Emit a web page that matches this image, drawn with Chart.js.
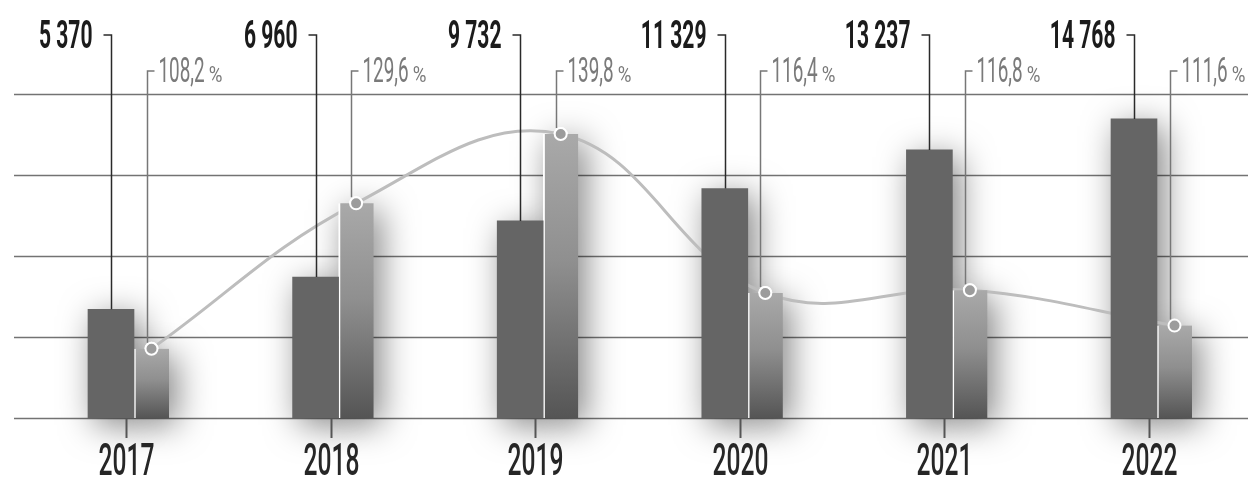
<!DOCTYPE html>
<html lang="ru">
<head>
  <meta charset="UTF-8">
  <title>2017–2022</title>
  <script src="https://cdn.jsdelivr.net/npm/chart.js"></script>
  <style>
    html, body {
      margin: 0;
      padding: 0;
      background: #fff;
    }
    #wrap {
      width: 1248px;
      height: 478px;
      position: relative;
    }
  </style>
</head>
<body>
  <div id="wrap"><canvas id="chart"></canvas></div>

  <script>
    // Data
    const years = ['2017', '2018', '2019', '2020', '2021', '2022'];
    const volume = [5370, 6960, 9732, 11329, 13237, 14768];
    const growth = [108.2, 129.6, 139.8, 116.4, 116.8, 111.6];

    // growth axis does not start at zero in the picture
    const GROWTH_MIN = 98;
    const GROWTH_MAX = 145.7;

    const FONT = 'Roboto, "DejaVu Sans", sans-serif';

    function fmtThousands(v) {
      return String(v).replace(/\B(?=(\d{3})+(?!\d))/g, ' ');
    }
    function fmtPct(v) {
      return v.toFixed(1).replace('.', ',');
    }

    // condensed look: draw text squeezed horizontally, returns drawn width
    function squeezed(ctx, text, x, y, font, color, align, sx) {
      ctx.save();
      ctx.font = font;
      ctx.fillStyle = color;
      ctx.textAlign = align;
      ctx.textBaseline = 'alphabetic';
      const w = ctx.measureText(text).width * sx;
      ctx.translate(x, y);
      ctx.scale(sx, 1);
      ctx.fillText(text, 0, 0);
      ctx.restore();
      return w;
    }

    function lightGradient(context) {
      const chart = context.chart;
      const area = chart.chartArea;
      if (!area || !chart.scales.y2) return '#8e8e8e';
      const top = chart.scales.y2.getPixelForValue(growth[context.dataIndex]);
      const g = chart.ctx.createLinearGradient(0, top, 0, area.bottom);
      g.addColorStop(0, '#a9a9a9');
      g.addColorStop(0.45, '#8f8f8f');
      g.addColorStop(1, '#555555');
      return g;
    }

    const decor = {
      id: 'decor',
      afterDatasetsUpdate(chart) {
        // line points sit on top of the light bars
        const light = chart.getDatasetMeta(1);
        const line = chart.getDatasetMeta(2);
        line.data.forEach((pt, i) => { pt.x = light.data[i].x; });
      },
      beforeDatasetsDraw(chart) {
        const ctx = chart.ctx;
        const y = chart.scales.y;
        // grid lines across the full width
        ctx.save();
        ctx.strokeStyle = '#737373';
        ctx.lineWidth = 1.6;
        y.ticks.forEach(t => {
          const yy = Math.round(y.getPixelForValue(t.value)) + 0.5;
          ctx.beginPath();
          ctx.moveTo(14, yy);
          ctx.lineTo(chart.width, yy);
          ctx.stroke();
        });
        ctx.restore();

        // soft shadows behind the bars
        const dpr = chart.currentDevicePixelRatio || 1;
        const far = 3000;
        ctx.save();
        ctx.shadowColor = 'rgba(0,0,0,0.5)';
        ctx.shadowBlur = 34 * dpr;
        ctx.shadowOffsetX = (far + 7) * dpr;
        ctx.shadowOffsetY = 7 * dpr;
        ctx.fillStyle = '#000';
        [0, 1].forEach(di => {
          chart.getDatasetMeta(di).data.forEach(bar => {
            const { x, y: top, base, width } = bar.getProps(['x', 'y', 'base', 'width'], true);
            ctx.fillRect(x - width / 2 - far, top, width, base - top);
          });
        });
        ctx.restore();
      },
      afterDatasetsDraw(chart) {
        const ctx = chart.ctx;
        const area = chart.chartArea;
        const dark = chart.getDatasetMeta(0);
        const line = chart.getDatasetMeta(2);

        // markers above the bars (whole canvas, last one is right of the plot area)
        const full = { left: 0, top: 0, right: chart.width, bottom: chart.height };
        line.data.forEach(pt => pt.draw(ctx, full));

        ctx.save();
        ctx.lineWidth = 1.5;

        // value labels with leaders
        dark.data.forEach((bar, i) => {
          const x = Math.round(bar.x) + 0.5;
          const ly = area.top - 59;
          ctx.strokeStyle = '#2a2a2a';
          ctx.beginPath();
          ctx.moveTo(x - 8, ly);
          ctx.lineTo(x, ly);
          ctx.lineTo(x, bar.y);
          ctx.stroke();
          squeezed(ctx, fmtThousands(volume[i]), x - 19, area.top - 46,
            'bold 39px ' + FONT, '#1b1b1b', 'right', 0.54);
        });

        // growth labels with leaders
        line.data.forEach((pt, i) => {
          const x = Math.round(pt.x) - 5 + 0.5;
          const ly = area.top - 23;
          ctx.strokeStyle = '#777';
          ctx.beginPath();
          ctx.moveTo(x + 7, ly);
          ctx.lineTo(x, ly);
          ctx.lineTo(x, pt.y - 6);
          ctx.stroke();
          const w = squeezed(ctx, fmtPct(growth[i]), x + 11, area.top - 12,
            '35px ' + FONT, '#7a7a7a', 'left', 0.54);
          squeezed(ctx, '%', x + 11 + w + 4, area.top - 12,
            '22px ' + FONT, '#7a7a7a', 'left', 0.85);
        });

        // category labels and ticks
        const xs = chart.scales.x;
        years.forEach((yr, i) => {
          const x = Math.round(xs.getPixelForValue(i)) - 8 + 0.5;
          ctx.strokeStyle = '#555';
          ctx.lineWidth = 2;
          ctx.beginPath();
          ctx.moveTo(x, area.bottom);
          ctx.lineTo(x, area.bottom + 20);
          ctx.stroke();
          squeezed(ctx, yr, x, area.bottom + 57, '500 44px ' + FONT, '#262626', 'center', 0.56);
        });
        ctx.restore();
      }
    };

    const ctx = document.getElementById('chart').getContext('2d');
    const chart = new Chart(ctx, {
      type: 'bar',
      data: {
        labels: years,
        datasets: [
          {
            label: 'volume',
            data: volume,
            yAxisID: 'y',
            stack: 'a',
            order: 1,
            backgroundColor: '#656565',
            borderWidth: 0,
            barThickness: 46,
            clip: false
          },
          {
            label: 'growth',
            data: growth,
            yAxisID: 'y2',
            stack: 'b',
            order: 2,
            base: GROWTH_MIN,
            backgroundColor: lightGradient,
            borderColor: '#ffffff',
            borderWidth: { left: 2, top: 0, right: 0, bottom: 0 },
            borderSkipped: false,
            barThickness: 35,
            clip: false
          },
          {
            type: 'line',
            label: 'growth line',
            data: growth,
            yAxisID: 'y2',
            order: 3,
            borderColor: '#bdbdbd',
            borderWidth: 3,
            tension: 0.4,
            fill: false,
            pointRadius: 6,
            pointBackgroundColor: '#9c9c9c',
            pointBorderColor: '#ffffff',
            pointBorderWidth: 2,
            clip: false
          }
        ]
      },
      options: {
        responsive: true,
        maintainAspectRatio: false,
        animation: false,
        events: [],
        layout: {
          padding: { left: 134, right: 91, top: 94, bottom: 60 }
        },
        plugins: {
          legend: { display: false },
          tooltip: { enabled: false }
        },
        scales: {
          x: {
            display: false,
            offset: false,
            stacked: false
          },
          y: {
            display: false,
            min: 0,
            max: 16000,
            ticks: { stepSize: 4000 }
          },
          y2: {
            display: false,
            beginAtZero: false,
            min: GROWTH_MIN,
            max: GROWTH_MAX
          }
        }
      },
      plugins: [decor]
    });
  </script>
</body>
</html>
